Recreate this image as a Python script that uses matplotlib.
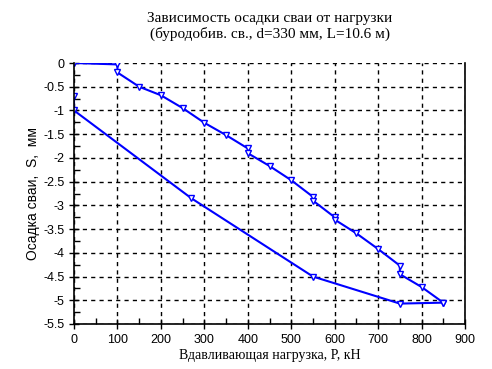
import matplotlib
matplotlib.use("Agg")
import matplotlib.pyplot as plt
from matplotlib.ticker import MultipleLocator

# Loading branch
load_P = [0, 100, 100, 150, 200, 250, 300, 350, 400, 400, 450, 500, 550, 550, 600, 600, 650, 700, 750, 750, 800, 850]
load_S = [0, -0.03, -0.2, -0.5, -0.68, -0.95, -1.26, -1.52, -1.8, -1.9, -2.17, -2.47, -2.82, -2.9, -3.25, -3.3, -3.59, -3.92, -4.27, -4.45, -4.72, -5.05]
# Unloading branch
unload_P = [850, 750, 550, 270, 0, 0]
unload_S = [-5.05, -5.07, -4.5, -2.85, -1.0, -0.7]

title_text = "Зависимость осадки сваи от нагрузки\n(буродобив. св., d=330 мм, L=10.6 м)"
xlabel_text = "Вдавливающая нагрузка, P, кН"
ylabel_text = "Осадка сваи,  S,  мм"

fig = plt.figure(figsize=(4.92, 3.69), dpi=100)
ax = fig.add_axes([74/492, 1-324/369, (465-74)/492, (324-63)/369])

blue = "#0000ff"
P = load_P + unload_P
S = load_S + unload_S
ax.plot(P, S, color=blue, lw=1.5, marker="v", markersize=5,
        markerfacecolor="white", markeredgecolor=blue, markeredgewidth=1.0)

ax.set_xlim(0, 900)
ax.set_ylim(-5.5, 0)
ax.xaxis.set_major_locator(MultipleLocator(100))
ax.xaxis.set_minor_locator(MultipleLocator(50))
ax.yaxis.set_major_locator(MultipleLocator(0.5))
ax.yaxis.set_minor_locator(MultipleLocator(0.25))
ax.yaxis.set_major_formatter(plt.FuncFormatter(lambda v, p: "0" if abs(v) < 1e-9 else ("%g" % v)))

ax.grid(True, which="major", color="black", linestyle=(0, (3, 3)), linewidth=1.0)
ax.tick_params(which="major", direction="inout", length=7, width=1, labelsize=9)
ax.tick_params(which="minor", direction="in", length=4, width=1)
for lab in ax.get_xticklabels() + ax.get_yticklabels():
    lab.set_family("Liberation Sans")

for side in ["top", "right"]:
    ax.spines[side].set_visible(False)
for side in ["left", "bottom"]:
    ax.spines[side].set_linewidth(1.2)
ax.axvline(900, color="black", lw=1.2, clip_on=False)

ax.set_xlabel(xlabel_text, family="Liberation Serif", fontsize=10, labelpad=2)
ax.set_ylabel(ylabel_text, family="Liberation Sans", fontsize=10, labelpad=2)
fig.text((74+465)/2/492, 1-12/369, title_text, ha="center", va="top",
         family="Liberation Serif", fontsize=11, linespacing=1.15)

fig.savefig("out.png", dpi=100)
